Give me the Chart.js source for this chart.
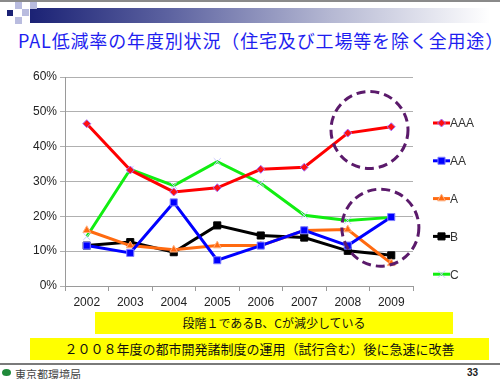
<html>
<head>
<meta charset="utf-8">
<script src="https://cdn.jsdelivr.net/npm/chart.js@4.4.1/dist/chart.umd.min.js"></script>
<style>
  body { margin: 0; width: 500px; height: 379px; background: #fff; position: relative; overflow: hidden;
         font-family: "Noto Sans CJK JP", "Liberation Sans", sans-serif; }
  .topline { position: absolute; left: 0; top: 0; width: 500px; height: 2px; background: #8a8a8a; }
  .bar { position: absolute; left: 30px; top: 8px; width: 460px; height: 15px;
         background: linear-gradient(to right, #1b2275 0%, #5c62a0 30%, #b4b7d2 65%, #ffffff 100%); }
  .sq { position: absolute; width: 7px; height: 7px; background: #b9bcdf; }
  .sq.dark { background: #1b2275; width: 6px; height: 6px; }
  .title { position: absolute; left: 18px; top: 27px; font-size: 18px; color: #1e1ef0; white-space: nowrap; letter-spacing: 0.85px; }
  .chartbox { position: absolute; left: 0; top: 60px; width: 500px; height: 255px; }
  .ybox { position: absolute; background: #ffff00; color: #111; text-align: center; white-space: nowrap; }
  .footline { position: absolute; left: 0; top: 363px; width: 500px; height: 2px; background: #7a7a7a; }
  .logo { position: absolute; left: 15px; top: 366px; font-size: 11px; color: #444; }
  .leaf { position: absolute; left: 2px; top: 369px; width: 9px; height: 7px; background: #1f8a3a; border-radius: 50%; }
  .page { position: absolute; left: 467px; top: 367px; font-size: 10px; font-weight: bold; color: #222; font-family: "Liberation Sans", sans-serif; }
</style>
</head>
<body>
<div class="topline"></div>
<div class="bar"></div>
<div class="sq" style="left:15px;top:2px"></div>
<div class="sq" style="left:30px;top:2px"></div>
<div class="sq dark" style="left:7px;top:10px"></div>
<div class="sq" style="left:22px;top:9px"></div>
<div class="sq" style="left:15px;top:17px"></div>
<div class="title">PAL低減率の年度別状況（住宅及び工場等を除く全用途）</div>
<div class="chartbox"><canvas id="chart"></canvas></div>
<div class="ybox" style="left:95px;top:312px;width:358px;height:22px;line-height:22px;font-size:12px;">段階１であるB、Cが減少している</div>
<div class="ybox" style="left:30px;top:338px;width:459px;height:22px;line-height:22px;font-size:13px;">２００８年度の都市開発諸制度の運用（試行含む）後に急速に改善</div>
<div class="footline"></div>
<div class="leaf"></div>
<div class="logo">東京都環境局</div>
<div class="page">33</div>

<script>
var years = ['2002', '2003', '2004', '2005', '2006', '2007', '2008', '2009'];
var seriesAAA = [46.6, 33.3, 27.0, 28.2, 33.5, 34.1, 43.9, 45.7];
var seriesAA  = [11.6, 9.5, 24.0, 7.4, 11.6, 16.0, 11.6, 19.8];
var seriesA   = [16.0, 11.6, 10.4, 11.6, 11.6, 15.9, 16.2, 6.5];
var seriesB   = [11.6, 12.6, 9.7, 17.4, 14.5, 13.9, 10.1, 8.8];
var seriesC   = [14.2, 33.5, 28.8, 35.7, 29.5, 20.3, 18.8, 19.7];
var yTicks = [0, 10, 20, 30, 40, 50, 60];

// dashed circles: [x index, y value]
var highlights = [[6.5, 44.8], [6.75, 16.75]];

function ds(label, data, color, style, radius, pointFill, pointBorder) {
  return {
    label: label, data: data,
    borderColor: color, borderWidth: 3,
    pointStyle: style, pointRadius: radius, pointHoverRadius: radius,
    pointBackgroundColor: pointFill, pointBorderColor: pointBorder, pointBorderWidth: 1,
    tension: 0
  };
}

var legendPlugin = {
  id: 'sideLegend',
  afterDraw: function(chart) {
    var c = chart.ctx;
    chart.data.datasets.forEach(function(d, i) {
      var y = 63 + i * 37.8;
      c.save();
      c.strokeStyle = d.borderColor;
      c.lineWidth = 3;
      c.beginPath(); c.moveTo(433, y); c.lineTo(450, y); c.stroke();
      c.fillStyle = d.pointBackgroundColor;
      c.strokeStyle = d.pointBorderColor;
      c.lineWidth = 1;
      Chart.helpers.drawPoint(c, { pointStyle: d.pointStyle, radius: d.pointRadius, borderWidth: 1 }, 441.5, y);
      c.fillStyle = '#333';
      c.font = '12px "Liberation Sans", Arial, sans-serif';
      c.textBaseline = 'middle';
      c.fillText(d.label, 450, y + 1);
      c.restore();
    });
  }
};

var circlePlugin = {
  id: 'circles',
  afterDatasetsDraw: function(chart) {
    var c = chart.ctx, xs = chart.scales.x, ys = chart.scales.y;
    c.save();
    c.strokeStyle = '#5b1a6b';
    c.lineWidth = 3;
    c.setLineDash([9, 5]);
    highlights.forEach(function(h) {
      c.beginPath();
      c.arc(xs.getPixelForValue(h[0]), ys.getPixelForValue(h[1]), 38.5, 0, Math.PI * 2);
      c.stroke();
    });
    c.restore();
  }
};

new Chart(document.getElementById('chart'), {
  type: 'line',
  data: {
    labels: years,
    datasets: [
      ds('AAA', seriesAAA, '#ff0000', 'rectRot', 4, '#ff1010', '#a070ff'),
      ds('AA', seriesAA, '#0000ff', 'rect', 5, '#0000ff', '#7f7fff'),
      ds('A', seriesA, '#ff6a10', 'triangle', 4.5, '#ff6a10', '#ffb080'),
      ds('B', seriesB, '#000000', 'rect', 5, '#000000', '#000000'),
      ds('C', seriesC, '#11ee11', 'crossRot', 5, '#c8c8ff', '#c8c8ff')
    ]
  },
  options: {
    responsive: true, maintainAspectRatio: false, animation: false,
    layout: { padding: { left: 0, right: 87, top: 17, bottom: 0 } },
    plugins: { legend: { display: false }, tooltip: { enabled: false } },
    scales: {
      x: {
        offset: true,
        grid: { offset: true, drawOnChartArea: false, tickLength: 5, color: '#9a9a9a' },
        border: { color: '#9a9a9a' },
        ticks: { color: '#222', font: { size: 12, family: '"Liberation Sans", Arial, sans-serif' }, padding: 4, maxRotation: 0 },
        afterFit: function(s) { s.height = 29; }
      },
      y: {
        min: 0, max: 60,
        afterBuildTicks: function(s) { s.ticks = yTicks.map(function(v) { return { value: v }; }); },
        grid: { color: '#b0b0b0', tickLength: 5, drawTicks: true },
        border: { color: '#9a9a9a' },
        ticks: { color: '#222', font: { size: 12, family: '"Liberation Sans", Arial, sans-serif' }, padding: 3,
                 callback: function(v) { return v + '%'; } },
        afterFit: function(s) { s.width = 65; }
      }
    }
  },
  plugins: [circlePlugin, legendPlugin]
});
</script>
</body>
</html>
